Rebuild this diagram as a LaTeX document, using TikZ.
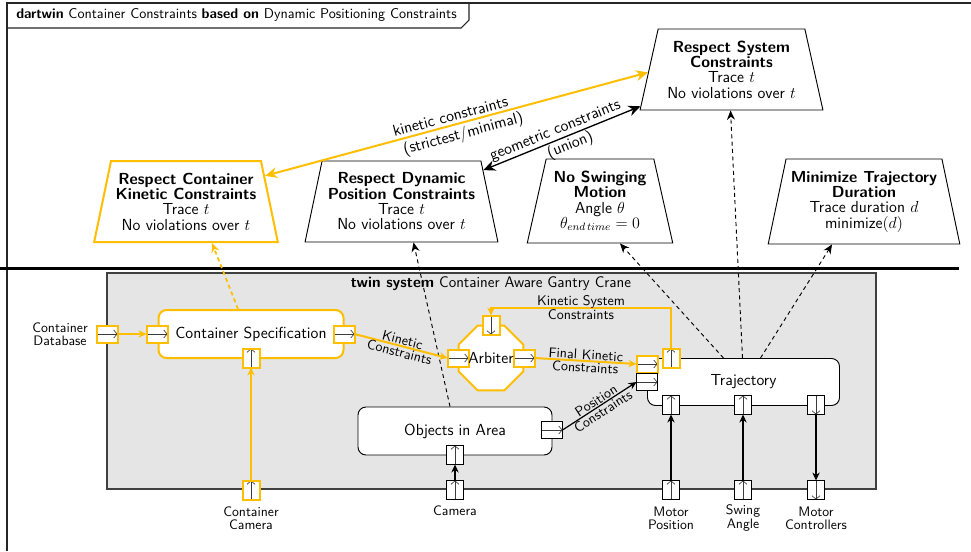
\documentclass[tikz,border=0pt]{standalone}
\usetikzlibrary{arrows.meta,shapes.geometric,calc}
\definecolor{yel}{RGB}{255,190,0}
\definecolor{boxgray}{RGB}{229,229,229}
\definecolor{portgray}{RGB}{60,60,60}
\begin{document}
\begin{tikzpicture}[x=0.75pt,y=-0.75pt,
  goal/.style={trapezium, trapezium angle=75, trapezium stretches=true, draw, fill=white,
    align=center, font=\sffamily\fontsize{12}{11.5}\selectfont, inner sep=1pt, minimum height=60.75pt, line width=0.7pt},
  ygoal/.style={goal, draw=yel, line width=1.5pt},
  blk/.style={rectangle, rounded corners=6pt, draw, fill=white, font=\sffamily\fontsize{12}{13}\selectfont, line width=0.7pt},
  yblk/.style={blk, draw=yel, line width=1.5pt},
  portarr/.style={draw=portgray, line width=0.5pt, -{Straight Barb[length=2.5pt,width=6pt]}},
  portbase/.style={draw, fill=white, inner sep=0pt, outer sep=0pt, line width=0.6pt},
  hport/.style={portbase, minimum width=15.75pt, minimum height=12.75pt,
    path picture={\draw[portarr] (path picture bounding box.west) -- (path picture bounding box.east);}},
  uport/.style={portbase, minimum width=12.75pt, minimum height=14.25pt,
    path picture={\draw[portarr] (path picture bounding box.south) -- (path picture bounding box.north);}},
  dport/.style={portbase, minimum width=12.75pt, minimum height=14.25pt,
    path picture={\draw[portarr] (path picture bounding box.north) -- (path picture bounding box.south);}},
  yp/.style={draw=yel, line width=1.5pt},
  yc/.style={draw=yel, line width=1.5pt, -{Stealth[length=6pt,width=5.5pt]}},
  bc/.style={draw=black, line width=0.9pt, -{Stealth[length=6pt,width=5.5pt]}},
  dsh/.style={dash pattern=on 3pt off 2.5pt, line width=0.7pt, -{Stealth[length=7pt,width=6pt]}},
  lbl/.style={font=\sffamily\fontsize{10.5}{9.5}\selectfont, align=center, inner sep=1pt},
  tlbl/.style={font=\sffamily\fontsize{12}{12}\selectfont, align=center, inner sep=1pt},
  plbl/.style={font=\sffamily\fontsize{10.3}{9.8}\selectfont, align=center, inner sep=0pt},
]
\useasboundingbox (0,0) rectangle (971,551);
\fill[white] (0,0) rectangle (971,551);

% outer frame and title tab
\draw[line width=0.8pt, black!85] (7,551) -- (7,3) -- (971,3);
\draw[line width=0.8pt, black!85] (7,28) -- (461,28) -- (469,20) -- (469,3);
\node[anchor=west, font=\sffamily\fontsize{10.6}{12}\selectfont, inner sep=0pt] (title) at (16,15)
  {\textbf{dartwin} Container Constraints \textbf{based on} Dynamic Positioning Constraints};

% separator
\draw[line width=2.3pt] (0,268.5) -- (959,268.5);

% twin system box
\fill[boxgray] (107,273) rectangle (876,489);
\draw[line width=0.8pt, black!75] (107,273) rectangle (876,489);
\node[font=\sffamily\fontsize{11.5}{12}\selectfont, inner sep=0pt] (twin) at (491,284)
  {\textbf{twin system} Container Aware Gantry Crane};

% goals
\node[goal, minimum width=137.25pt] (sys) at (731.5,69.5)
  {\textbf{Respect System}\\\textbf{Constraints}\\Trace $t$\\No violations over $t$};
\node[ygoal, minimum width=138pt] (kin) at (186,201.5)
  {\textbf{Respect Container}\\\textbf{Kinetic Constraints}\\Trace $t$\\No violations over $t$};
\node[goal, minimum width=144.75pt] (dyn) at (401.5,201.5)
  {\textbf{Respect Dynamic}\\\textbf{Position Constraints}\\Trace $t$\\No violations over $t$};
\node[goal, minimum width=109.5pt, minimum height=63pt] (nsw) at (600,201)
  {\textbf{No Swinging}\\\textbf{Motion}\\Angle $\theta$\\$\theta_{end\,time}=0$};
\node[goal, minimum width=144pt, minimum height=63.75pt] (mintr) at (864,201.5)
  {\textbf{Minimize Trajectory}\\\textbf{Duration}\\Trace duration $d$\\minimize$(d)$};

% blocks
\node[yblk, minimum width=138.75pt, minimum height=36pt] (cs) at (251,334) {Container Specification};
\node[regular polygon, regular polygon sides=8, minimum size=52.5pt, draw=yel, line width=1.5pt,
  fill=white, inner sep=0pt] (arb) at (491,358) {};
\node[blk, minimum width=145.5pt, minimum height=36pt] (obj) at (455,431) {Objects in Area};
\node[blk, minimum width=144pt, minimum height=35.25pt] (traj) at (743.5,382) {Trajectory};

% ports
\node[hport, yp] (dbport) at (107,334) {};
\node[hport, yp] (csin) at (157,334) {};
\node[hport, yp] (csout) at (344,334) {};
\node[uport, yp] (csbot) at (251,358) {};
\node[uport, yp] (ccport) at (251,490) {};
\node[hport, yp] (arbin) at (458,358) {};
\node[hport, yp] (arbout) at (524,358) {};
\node[dport, yp] (arbtop) at (491,325) {};
\node[font=\sffamily\fontsize{12}{13}\selectfont, inner sep=0pt] (arblbl) at (491,358) {Arbiter};
\node[hport] (objout) at (552,430) {};
\node[uport] (objbot) at (455,455) {};
\node[uport] (camport) at (455,490) {};
\node[hport, yp] (trin1) at (647,364) {};
\node[hport] (trin2) at (647,382) {};
\node[uport, yp] (trout) at (671,358) {};
\node[uport] (tb1) at (671,405) {};
\node[uport] (tb2) at (743,405) {};
\node[dport] (tb3) at (816,405) {};
\node[uport] (mp) at (671,490) {};
\node[uport] (sa) at (743,490) {};
\node[dport] (mc) at (816,490) {};

% port labels
\node[plbl] (dblbl) at (60,334) {Container\\Database};
\node[plbl] (cclbl) at (251,518) {Container\\Camera};
\node[plbl] (camlbl) at (455,511) {Camera};
\node[plbl] (mplbl) at (671,518) {Motor\\Position};
\node[plbl] (salbl) at (743,518) {Swing\\Angle};
\node[plbl] (mclbl) at (816,518) {Motor\\Controllers};

% dashed traces
\draw[dsh, draw=yel, line width=1.3pt] ($(cs.north)+(-13,0)$) -- ($(kin.south)+(26,0)$);
\draw[dsh] ($(obj.north)+(-5,0)$) -- ($(dyn.south)+(12,0)$);
\draw[dsh] ($(traj.north)+(-20,0)$) -- ($(nsw.south)+(20,0)$);
\draw[dsh] ($(traj.north)+(-1,0)$) -- ($(sys.south)+(-1,0)$);
\draw[dsh] ($(traj.north)+(17,0)$) -- ($(mintr.south)+(-32,0)$);

% top relations
\draw[draw=yel, line width=1.5pt, {Stealth[length=9pt,width=8pt]}-{Stealth[length=9pt,width=8pt]}]
  (kin.18) -- node[tlbl, pos=0.49, above=1pt, sloped] {kinetic constraints}
  node[tlbl, pos=0.51, below=1pt, sloped] {(strictest/minimal)} (sys.182.7);
\draw[line width=1pt, {Stealth[length=9pt,width=8pt]}-{Stealth[length=9pt,width=8pt]}]
  (dyn.21) -- node[tlbl, pos=0.48, above=0pt, sloped] {geometric constraints}
  node[tlbl, pos=0.53, below=0pt, sloped] {(union)} (sys.202);

% connectors
\draw[yc] (dbport) -- (csin);
\draw[yc] (ccport) -- (csbot);
\draw[yc] (csout.east) -- node[lbl, midway, sloped] {Kinetic\\Constraints} (arbin.west);
\draw[yc] (arbout.east) -- node[lbl, midway, sloped] {Final Kinetic\\Constraints} (trin1.west);
\coordinate (ksr) at (671,308);
\coordinate (ksl) at (491,308);
\draw[yc] (trout.north) -- (ksr) -- node[lbl, midway] {Kinetic System\\Constraints} (ksl) -- (arbtop.north);
\draw[bc] (camport) -- (objbot);
\draw[bc] (objout.east) -- node[lbl, midway, sloped] {Position\\Constraints} (trin2.west);
\draw[bc] (mp) -- (tb1);
\draw[bc] (sa) -- (tb2);
\draw[bc] (tb3) -- (mc);
\end{tikzpicture}
\end{document}
